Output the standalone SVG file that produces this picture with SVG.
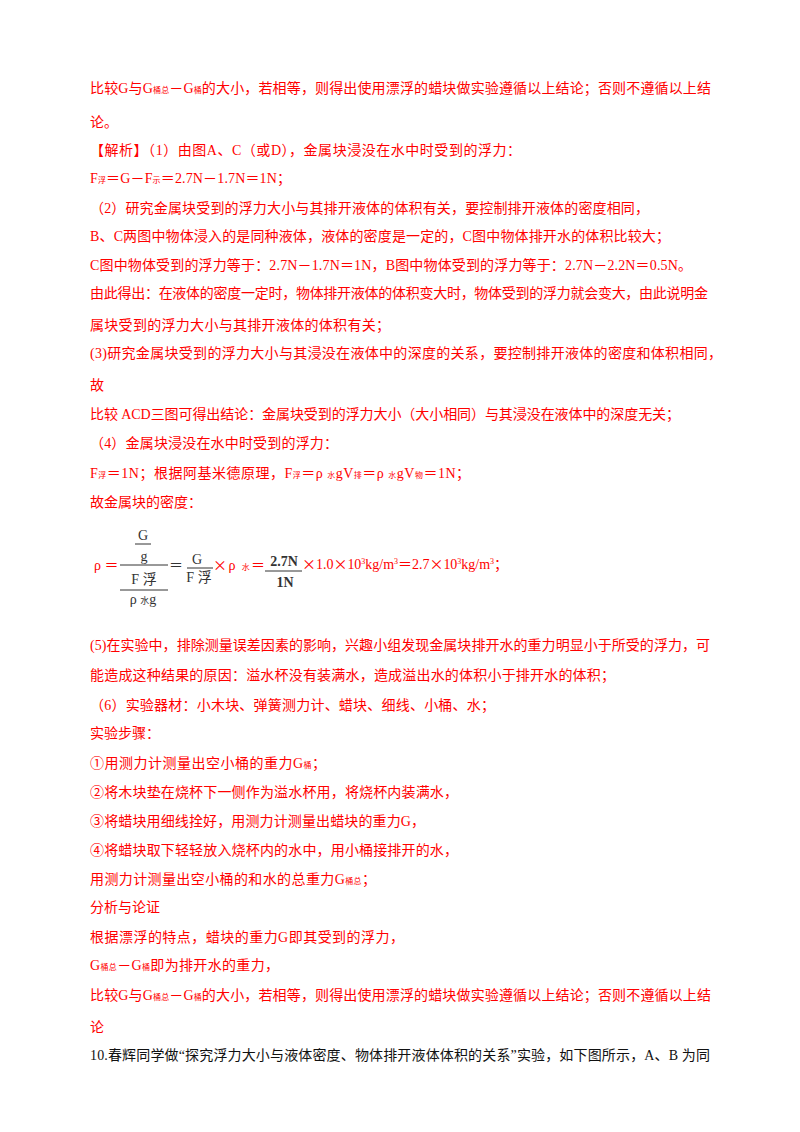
<svg xmlns="http://www.w3.org/2000/svg" width="800" height="1132" viewBox="0 0 800 1132">
<style>
text{font-family:"Liberation Serif","Noto Sans CJK SC",serif;font-size:14px;fill:#ff0000}
.k{fill:#111}
.f{fill:#333}
.s{font-size:8px}
.b{font-weight:bold}
.c{font-family:"Noto Sans CJK SC",sans-serif}
line{stroke:#333;stroke-width:1}
</style>
<rect width="800" height="1132" fill="#fff"/>
<g id="text-top">
<text x="90" y="93" textLength="621" lengthAdjust="spacing">比较G与G<tspan class="s">桶总</tspan>－G<tspan class="s">桶</tspan>的大小，若相等，则得出使用漂浮的蜡块做实验遵循以上结论；否则不遵循以上结</text>
<text x="90" y="127">论。</text>
<text x="90" y="155" textLength="431" lengthAdjust="spacing">【解析】（1）由图A、C（或D），金属块浸没在水中时受到的浮力：</text>
<text x="90" y="183" textLength="201" lengthAdjust="spacing">F<tspan class="s">浮</tspan>＝G－F<tspan class="s">示</tspan>＝2.7N－1.7N＝1N；</text>
<text x="90" y="213" textLength="559" lengthAdjust="spacing">（2）研究金属块受到的浮力大小与其排开液体的体积有关，要控制排开液体的密度相同，</text>
<text x="90" y="241" textLength="580" lengthAdjust="spacing">B、C两图中物体浸入的是同种液体，液体的密度是一定的，C图中物体排开水的体积比较大；</text>
<text x="90" y="270" textLength="602" lengthAdjust="spacing">C图中物体受到的浮力等于：2.7N－1.7N＝1N，B图中物体受到的浮力等于：2.7N－2.2N＝0.5N。</text>
<text x="90" y="298" textLength="618" lengthAdjust="spacing">由此得出：在液体的密度一定时，物体排开液体的体积变大时，物体受到的浮力就会变大，由此说明金</text>
<text x="90" y="330" textLength="300" lengthAdjust="spacing">属块受到的浮力大小与其排开液体的体积有关；</text>
<text x="90" y="358" textLength="632" lengthAdjust="spacing">(3)研究金属块受到的浮力大小与其浸没在液体中的深度的关系，要控制排开液体的密度和体积相同，</text>
<text x="90" y="390">故</text>
<text x="90" y="419" textLength="590" lengthAdjust="spacing">比较 ACD三图可得出结论：金属块受到的浮力大小（大小相同）与其浸没在液体中的深度无关；</text>
<text x="90" y="448" textLength="248" lengthAdjust="spacing">（4）金属块浸没在水中时受到的浮力：</text>
<text x="90" y="478" textLength="380" lengthAdjust="spacing">F<tspan class="s">浮</tspan>＝1N；根据阿基米德原理，F<tspan class="s">浮</tspan>＝ρ <tspan class="s">水</tspan>gV<tspan class="s">排</tspan>＝ρ <tspan class="s">水</tspan>gV<tspan class="s">物</tspan>＝1N；</text>
<text x="90" y="507">故金属块的密度：</text>
</g>
<g id="formula">
<text x="94" y="570">ρ ＝</text>
<text class="f" x="143" y="540" text-anchor="middle" font-size="12">G</text>
<line x1="135" y1="544" x2="151" y2="544"/>
<text class="f" x="144" y="561" text-anchor="middle" font-size="12">g</text>
<line x1="120" y1="565" x2="168" y2="565"/>
<text class="f" x="144" y="584" text-anchor="middle" font-size="12">F 浮</text>
<line x1="120" y1="590" x2="168" y2="590"/>
<text class="f" x="143" y="604" text-anchor="middle" font-size="12">ρ <tspan font-size="9">水</tspan>g</text>
<text class="f" x="169" y="570">＝</text>
<text class="f" x="197" y="564" text-anchor="middle" font-size="12">G</text>
<line x1="187" y1="568" x2="213" y2="568"/>
<text class="f" x="199" y="582" text-anchor="middle" font-size="12">F 浮</text>
<text x="213" y="570" textLength="52" lengthAdjust="spacing"><tspan class="c">×</tspan>ρ <tspan class="s">水</tspan>＝</text>
<text class="f b" x="284" y="566" text-anchor="middle" font-size="13">2.7N</text>
<line x1="265" y1="571" x2="302" y2="571" stroke-width="1.2"/>
<text class="f b" x="285" y="587" text-anchor="middle" font-size="13">1N</text>
<text x="302" y="569" textLength="206" lengthAdjust="spacing"><tspan class="c">×</tspan>1.0<tspan class="c">×</tspan>10<tspan font-size="8" dy="-5">3</tspan><tspan dy="5">kg/m</tspan><tspan font-size="8" dy="-5">3</tspan><tspan dy="5">＝2.7</tspan><tspan class="c">×</tspan>10<tspan font-size="8" dy="-5">3</tspan><tspan dy="5">kg/m</tspan><tspan font-size="8" dy="-5">3</tspan><tspan dy="5">；</tspan></text>
</g>
<g id="text-bottom">
<text x="90" y="650" textLength="620" lengthAdjust="spacing">(5)在实验中，排除测量误差因素的影响，兴趣小组发现金属块排开水的重力明显小于所受的浮力，可</text>
<text x="90" y="680" textLength="525" lengthAdjust="spacing">能造成这种结果的原因：溢水杯没有装满水，造成溢出水的体积小于排开水的体积；</text>
<text x="90" y="710" textLength="405" lengthAdjust="spacing">（6）实验器材：小木块、弹簧测力计、蜡块、细线、小桶、水；</text>
<text x="90" y="738">实验步骤：</text>
<text x="90" y="768" textLength="236" lengthAdjust="spacing">①用测力计测量出空小桶的重力G<tspan class="s">桶</tspan>；</text>
<text x="90" y="797" textLength="368" lengthAdjust="spacing">②将木块垫在烧杯下一侧作为溢水杯用，将烧杯内装满水，</text>
<text x="90" y="826" textLength="335" lengthAdjust="spacing">③将蜡块用细线拴好，用测力计测量出蜡块的重力G，</text>
<text x="90" y="855" textLength="368" lengthAdjust="spacing">④将蜡块取下轻轻放入烧杯内的水中，用小桶接排开的水，</text>
<text x="90" y="884" textLength="286" lengthAdjust="spacing">用测力计测量出空小桶的和水的总重力G<tspan class="s">桶总</tspan>；</text>
<text x="90" y="912">分析与论证</text>
<text x="90" y="942" textLength="314" lengthAdjust="spacing">根据漂浮的特点，蜡块的重力G即其受到的浮力，</text>
<text x="90" y="970" textLength="189" lengthAdjust="spacing">G<tspan class="s">桶总</tspan>－G<tspan class="s">桶</tspan>即为排开水的重力，</text>
<text x="90" y="1000" textLength="621" lengthAdjust="spacing">比较G与G<tspan class="s">桶总</tspan>－G<tspan class="s">桶</tspan>的大小，若相等，则得出使用漂浮的蜡块做实验遵循以上结论；否则不遵循以上结</text>
<text x="90" y="1032">论</text>
<text class="k" x="90" y="1060" textLength="620" lengthAdjust="spacing">10.春辉同学做“探究浮力大小与液体密度、物体排开液体体积的关系”实验，如下图所示，A、B 为同</text>
</g>
</svg>
